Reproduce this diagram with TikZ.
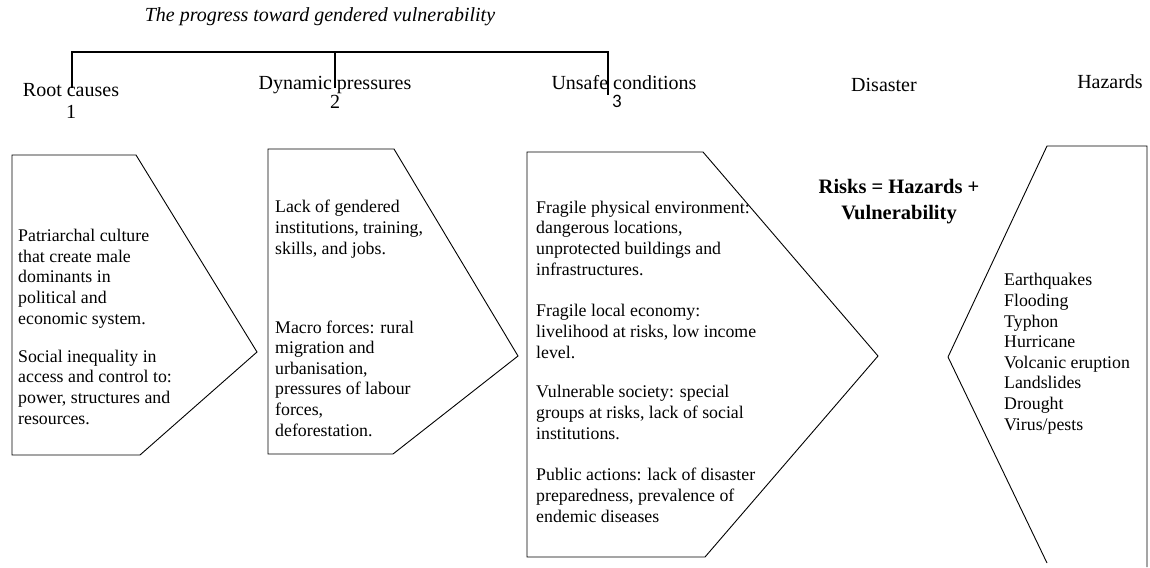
\documentclass[tikz,border=0pt]{standalone}
\usepackage{fontspec}
\setmainfont{Liberation Serif}
\newfontfamily\digitfont{Carlito}
\usetikzlibrary{positioning}

\tikzset{
  chevron/.style={draw, line width=0.9pt, line join=miter},
  bracket/.style={draw, line width=1.6pt},
  % multi-line nodes: the base anchor sits on the last line
  boxtext/.style={anchor=base west, align=left, inner sep=0pt,
    font=\fontsize{17.8}{20.6}\selectfont},
  heading/.style={anchor=base, inner sep=0pt, font=\fontsize{20}{24}\selectfont}
}

\begin{document}
\begin{tikzpicture}[x=1pt, y=-1pt]
      \useasboundingbox (0,0) rectangle (1150,567);
      % title and bracket over the three stages
      \node [heading, font=\fontsize{20}{24}\selectfont\itshape] (title) at (320,22)
            {The progress toward gendered vulnerability};
      \draw [bracket] (72,88) |- (608,52) -- (608,95)
                      (335,52) -- (335,88);
      % headings
      \node [heading] (root)   at (71,97)   {Root causes};
      \node [heading] (rootn)  at (71,119)  {1};
      \node [heading] (dyn)    at (335,90)  {Dynamic pressures};
      \node [heading] (dynn)   at (335,109) {2};
      \node [heading] (unsafe) at (624,90)  {Unsafe conditions};
      \node [heading, font=\fontsize{19}{22}\digitfont] (unsafen) at (617,108) {3};
      \node [heading] (dis)    at (884,92)  {Disaster};
      \node [heading] (haz)    at (1110,89) {Hazards};
      % the chevrons
      \draw [chevron] (12,155) -- (136,155) -- (257,352) -- (140,455) -- (12,455) -- cycle;
      \draw [chevron] (268,149) -- (394,149) -- (518,356) -- (393,454) -- (268,454) -- cycle;
      \draw [chevron] (527,152) -- (703,152) -- (878,356) -- (705,557) -- (527,557) -- cycle;
      \draw [chevron] (1047,563) -- (948,357) -- (1047,146) -- (1147,146) -- (1147,567);
      % stage 1
      \node [boxtext] (rootA) at (18,324) {Patriarchal culture\\that create male\\dominants in\\political and\\economic system.};
      \node [boxtext] (rootB) at (18,424) {Social inequality in\\access and control to:\\power, structures and\\resources.};
      % stage 2
      \node [boxtext] (dynA) at (275,254) {Lack of gendered\\institutions, training,\\skills, and jobs.};
      \node [boxtext] (dynB) at (275,436) {Macro forces: rural\\migration and\\urbanisation,\\pressures of labour\\forces,\\deforestation.};
      % stage 3
      \node [boxtext] (unsA) at (536,275) {Fragile physical environment:\\dangerous locations,\\unprotected buildings and\\infrastructures.};
      \node [boxtext] (unsB) at (536,358) {Fragile local economy:\\livelihood at risks, low income\\level.};
      \node [boxtext] (unsC) at (536,439) {Vulnerable society: special\\groups at risks, lack of social\\institutions.};
      \node [boxtext] (unsD) at (536,522) {Public actions: lack of disaster\\preparedness, prevalence of\\endemic diseases};
      % risk equation
      \node [align=center, inner sep=0pt, font=\fontsize{20.5}{26}\selectfont\bfseries] (risk) at (899,202)
            {Risks = Hazards +\\Vulnerability};
      % hazards
      \node [boxtext] (hazlist) at (1004,430) {Earthquakes\\Flooding\\Typhon\\Hurricane\\Volcanic eruption\\Landslides\\Drought\\Virus/pests};
\end{tikzpicture}
\end{document}
